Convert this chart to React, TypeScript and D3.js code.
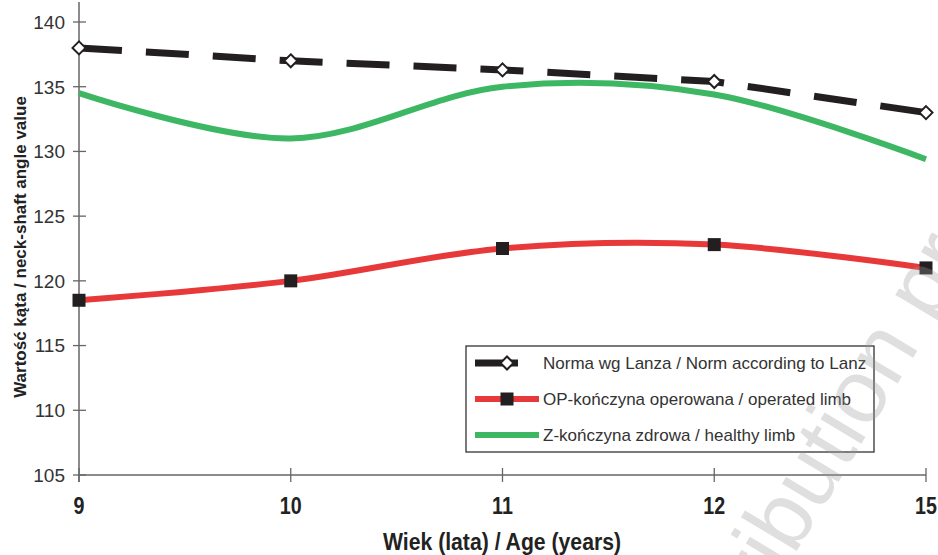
import React from "react";
import * as d3 from "d3";

const ages = ["9", "10", "11", "12", "15"];
const normLanz = [138, 137, 136.3, 135.4, 133];
const operatedLimb = [118.5, 120, 122.5, 122.8, 121];
const healthyLimb = [134.5, 131, 135, 134.4, 129.4];
const yTicks = [105, 110, 115, 120, 125, 130, 135, 140];
const legendLabels = [
  "Norma wg Lanza / Norm according to Lanz",
  "OP-kończyna operowana / operated limb",
  "Z-kończyna zdrowa / healthy limb",
];

const W = 938;
const H = 555;
const FONT = "'Liberation Sans', Arial, sans-serif";

export default function App() {
  const x = d3.scalePoint<string>().domain(ages).range([79, 926]);
  const y = d3.scaleLinear().domain([105, 140]).range([475, 22]);

  const linear = d3
    .line<number>()
    .x((_, i) => x(ages[i]) as number)
    .y((d) => y(d));
  const smooth = d3
    .line<number>()
    .x((_, i) => x(ages[i]) as number)
    .y((d) => y(d))
    .curve(d3.curveCardinal.tension(0));

  const axisColor = "#666";
  const dark = "#231f20";
  const red = "#e8393a";
  const green = "#3db763";

  const diamond = (cx: number, cy: number, r: number) =>
    `M${cx},${cy - r}L${cx + r},${cy}L${cx},${cy + r}L${cx - r},${cy}Z`;

  const legendX = 466;
  const legendY = 346;
  const rowY = [363, 399, 435];

  return (
    <svg
      width={W}
      height={H}
      style={{ position: "absolute", left: 0, top: 0, background: "#fff" }}
    >
      {/* axes */}
      <line x1={79} x2={79} y1={2} y2={482} stroke={axisColor} strokeWidth={1.5} />
      <line x1={79} x2={926} y1={475} y2={475} stroke={axisColor} strokeWidth={1.5} />
      {yTicks.map((t) => (
        <g key={t}>
          <line x1={73} x2={86} y1={y(t)} y2={y(t)} stroke={axisColor} strokeWidth={1.3} />
          <text
            x={65}
            y={y(t)}
            dy="0.36em"
            textAnchor="end"
            fontFamily={FONT}
            fontSize={19}
            fill="#333"
          >
            {t}
          </text>
        </g>
      ))}
      {ages.map((a) => (
        <g key={a}>
          <line
            x1={x(a)}
            x2={x(a)}
            y1={468}
            y2={482}
            stroke={axisColor}
            strokeWidth={1.3}
          />
          <text
            transform={`translate(${x(a)},514) scale(0.82,1)`}
            textAnchor="middle"
            fontFamily={FONT}
            fontWeight="bold"
            fontSize={24}
            fill="#222"
          >
            {a}
          </text>
        </g>
      ))}
      <text
        x={502}
        y={550}
        textAnchor="middle"
        fontFamily={FONT}
        fontWeight="bold"
        fontSize={23}
        fill="#222"
        textLength={238}
        lengthAdjust="spacingAndGlyphs"
      >
        Wiek (lata) / Age (years)
      </text>
      <text
        transform="translate(26,247) rotate(-90)"
        textAnchor="middle"
        fontFamily={FONT}
        fontWeight="bold"
        fontSize={17}
        fill="#222"
      >
        Wartość kąta / neck-shaft angle value
      </text>

      {/* series */}
      <path d={smooth(healthyLimb) || ""} fill="none" stroke={green} strokeWidth={6} />
      <path d={smooth(operatedLimb) || ""} fill="none" stroke={red} strokeWidth={6} />
      {operatedLimb.map((v, i) => (
        <rect
          key={i}
          x={(x(ages[i]) as number) - 6.5}
          y={y(v) - 6.5}
          width={13}
          height={13}
          fill={dark}
        />
      ))}
      <path
        d={linear(normLanz) || ""}
        fill="none"
        stroke={dark}
        strokeWidth={7}
        strokeDasharray="43 24"
      />
      {normLanz.map((v, i) => (
        <path
          key={i}
          d={diamond(x(ages[i]) as number, y(v), 6.5)}
          fill="#fff"
          stroke={dark}
          strokeWidth={2}
        />
      ))}

      {/* legend */}
      <rect
        x={legendX}
        y={legendY}
        width={408}
        height={106}
        fill="#fff"
        stroke="#333"
        strokeWidth={1.3}
      />
      <line
        x1={475}
        x2={539}
        y1={rowY[0]}
        y2={rowY[0]}
        stroke={dark}
        strokeWidth={7}
        strokeDasharray="43 24"
      />
      <path d={diamond(507, rowY[0], 6.5)} fill="#fff" stroke={dark} strokeWidth={2} />
      <line x1={475} x2={539} y1={rowY[1]} y2={rowY[1]} stroke={red} strokeWidth={6} />
      <rect x={500.5} y={rowY[1] - 6.5} width={13} height={13} fill={dark} />
      <line x1={475} x2={539} y1={rowY[2]} y2={rowY[2]} stroke={green} strokeWidth={6} />
      {legendLabels.map((l, i) => (
        <text
          key={l}
          x={543}
          y={rowY[i]}
          dy="0.36em"
          fontFamily={FONT}
          fontSize={17}
          fill="#333"
        >
          {l}
        </text>
      ))}

      {/* watermark */}
      <text
        transform="translate(696,719) rotate(-59)"
        fontFamily={FONT}
        fontSize={90}
        fill="#9a9a9a"
        fillOpacity={0.32}
      >
        distribution prohibited
      </text>
    </svg>
  );
}
